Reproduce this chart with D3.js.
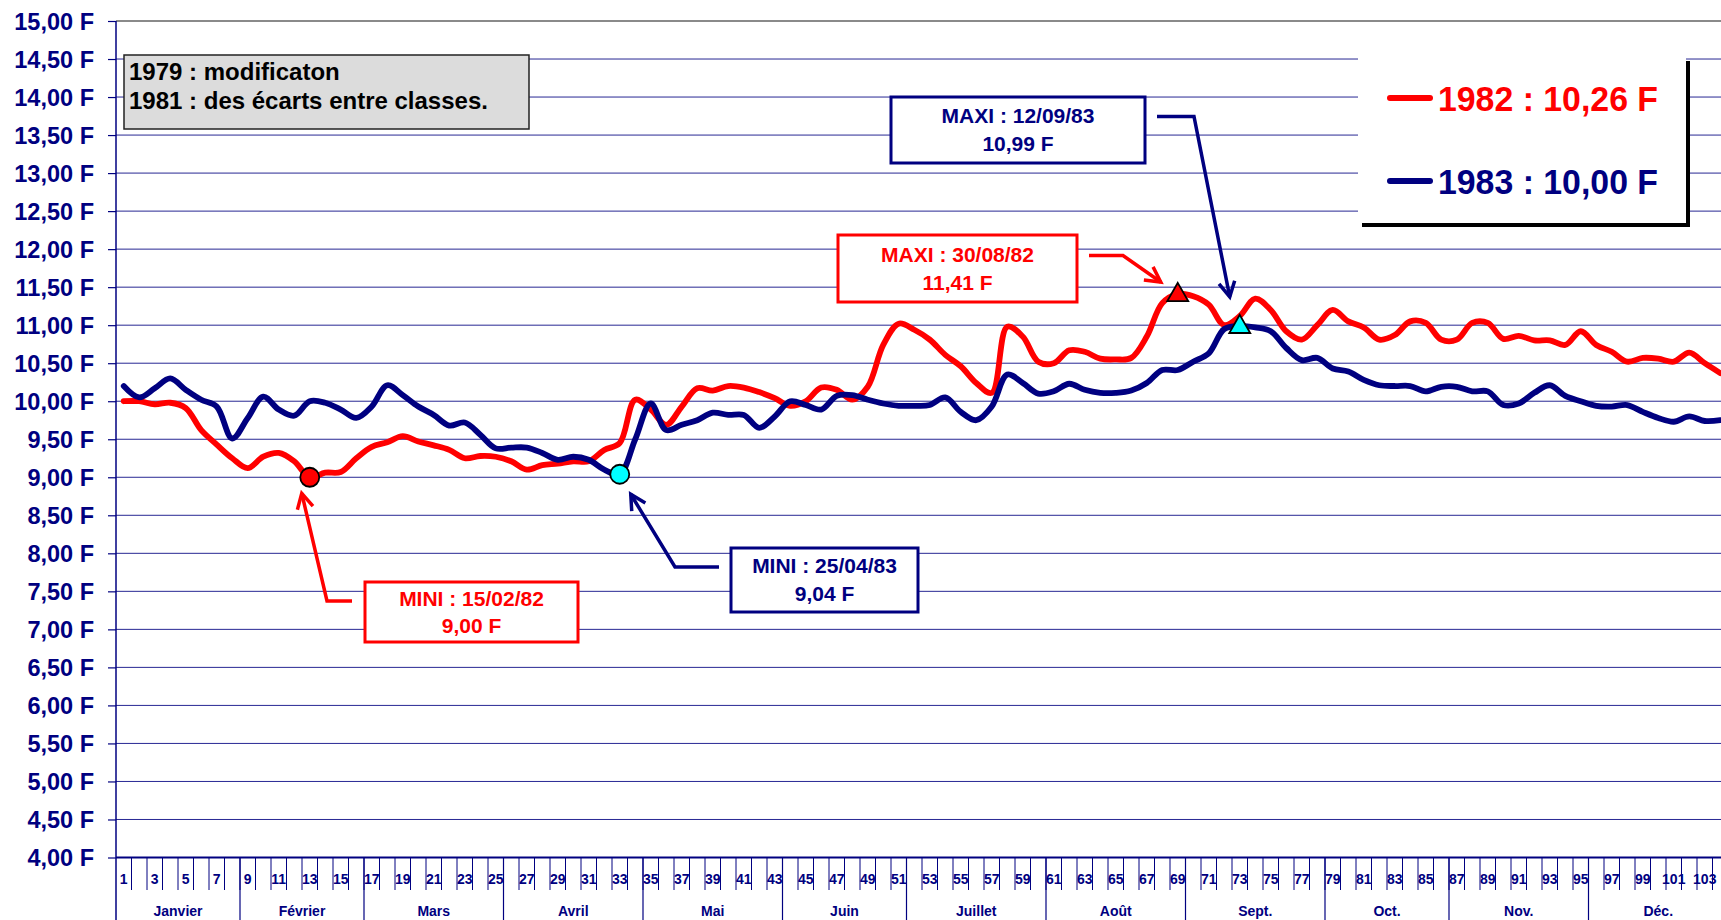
<!DOCTYPE html>
<html><head><meta charset="utf-8">
<script src="https://cdn.jsdelivr.net/npm/d3@7"></script>
<style>
html,body{margin:0;padding:0;background:#fff;}
svg{display:block;}
text{font-family:"Liberation Sans",Arial,Helvetica,sans-serif;font-weight:bold;}
</style></head><body>
<svg id="chart" width="1721" height="920"></svg>
<script>
// ---------- DATA ----------
const weeks = d3.range(1, 105);
const monthNames = ["Janvier","Février","Mars","Avril","Mai","Juin","Juillet","Août","Sept.","Oct.","Nov.","Déc."];
const monthWeeks = [8, 8, 9, 9, 9, 8, 9, 9, 9, 8, 9, 9];
const yTickValues = [4,4.5,5,5.5,6,6.5,7,7.5,8,8.5,9,9.5,10,10.5,11,11.5,12,12.5,13,13.5,14,14.5,15];
const series1982 = [
 10.00,10.00,9.96,9.98,9.91,9.62,9.43,9.25,9.12,9.27,
 9.32,9.21,9.00,9.06,9.07,9.25,9.40,9.46,9.54,9.47,
 9.42,9.36,9.25,9.28,9.27,9.21,9.10,9.16,9.18,9.21,
 9.21,9.36,9.45,10.02,9.89,9.69,9.93,10.17,10.14,10.20,
 10.18,10.12,10.04,9.94,10.00,10.18,10.15,10.02,10.19,10.74,
 11.02,10.94,10.81,10.61,10.46,10.24,10.11,10.98,10.85,10.52,
 10.50,10.67,10.65,10.56,10.55,10.57,10.85,11.29,11.41,11.38,
 11.27,11.00,11.12,11.35,11.20,10.92,10.81,11.00,11.20,11.05,
 10.97,10.81,10.87,11.05,11.03,10.81,10.81,11.03,11.03,10.82,
 10.86,10.80,10.80,10.74,10.92,10.74,10.65,10.52,10.57,10.56,
 10.52,10.64,10.50,10.37];
const series1983 = [
 10.20,10.05,10.17,10.30,10.15,10.02,9.93,9.51,9.78,10.06,
 9.89,9.81,10.00,9.98,9.89,9.78,9.93,10.21,10.08,9.93,
 9.82,9.68,9.72,9.56,9.38,9.39,9.39,9.32,9.23,9.27,
 9.23,9.10,9.04,9.50,9.97,9.62,9.69,9.75,9.85,9.82,
 9.82,9.65,9.80,10.00,9.95,9.89,10.07,10.08,10.02,9.97,
 9.94,9.94,9.95,10.05,9.86,9.75,9.93,10.35,10.24,10.10,
 10.13,10.23,10.15,10.11,10.11,10.14,10.24,10.41,10.41,10.52,
 10.63,10.95,10.99,10.97,10.92,10.70,10.54,10.57,10.43,10.39,
 10.28,10.21,10.20,10.20,10.13,10.19,10.19,10.13,10.13,9.95,
 9.97,10.11,10.21,10.07,10.00,9.94,9.93,9.95,9.86,9.78,
 9.73,9.80,9.74,9.75];
const seriesNames = ["1982", "1983"];
const legendLabels = ["1982 : 10,26 F", "1983 : 10,00 F"];
const noteLines = ["1979 : modificaton", "1981 : des écarts entre classes."];
const extremeSeries = ["1982", "1983", "1982", "1983"];
const extremeWeeks = [13, 33, 69, 73];
const extremeTitles = ["MINI : 15/02/82", "MINI : 25/04/83", "MAXI : 30/08/82", "MAXI : 12/09/83"];
const extremeValues = ["9,00 F", "9,04 F", "11,41 F", "10,99 F"];

// ---------- SETUP ----------
const W = 1721, H = 920;
const NAVY = "#000080", RED = "#ff0000", CYAN = "#00ffff";
const colors = {"1982": RED, "1983": NAVY};
const dataBy = {"1982": series1982, "1983": series1983};
const svg = d3.select("#chart");
svg.append("rect").attr("width", W).attr("height", H).attr("fill", "#fff");

const x0 = 116, cell = 15.5;
const x = d3.scaleBand().domain(weeks).range([x0, x0 + weeks.length * cell]).padding(0);
const xc = w => x(w) + x.bandwidth() / 2;
const y = d3.scaleLinear().domain([4, 15]).range([857.5, 21]);
const fmt = v => d3.format(".2f")(v).replace(".", ",") + " F";

// gridlines
svg.append("g").selectAll("line")
  .data(yTickValues.filter(v => v > 4 && v < 15))
  .join("line")
  .attr("x1", x0).attr("x2", W)
  .attr("y1", d => y(d)).attr("y2", d => y(d))
  .attr("stroke", NAVY).attr("stroke-opacity", 0.85).attr("stroke-width", 1);
// top border
svg.append("line").attr("x1", x0).attr("x2", W).attr("y1", y(15)).attr("y2", y(15))
  .attr("stroke", "#8a8a8a").attr("stroke-width", 2);

// y axis
const yAxis = d3.axisLeft(y).tickValues(yTickValues).tickFormat(fmt).tickSize(8).tickPadding(14);
const gy = svg.append("g").attr("transform", `translate(${x0},0)`).call(yAxis);
gy.select(".domain").remove();
gy.selectAll(".tick line").attr("stroke", NAVY).attr("stroke-width", 1.2);
gy.selectAll(".tick text").attr("fill", NAVY).attr("font-size", 23.5)
  .attr("font-family", '"Liberation Sans",Arial,sans-serif').attr("font-weight", "bold").attr("dy", "0.36em");
svg.append("line").attr("x1", x0).attr("x2", x0).attr("y1", y(15)).attr("y2", H)
  .attr("stroke", NAVY).attr("stroke-width", 1.5);

// x axis (week labels)
const xAxis = d3.axisBottom(x).tickValues(weeks.filter(w => w % 2 === 1)).tickSize(0).tickPadding(17);
const gx = svg.append("g").attr("transform", `translate(0,${y(4)})`).call(xAxis);
gx.select(".domain").remove();
gx.selectAll(".tick text").attr("fill", NAVY).attr("font-size", 14)
  .attr("font-family", '"Liberation Sans",Arial,sans-serif').attr("font-weight", "bold");
svg.append("line").attr("x1", x0).attr("x2", W).attr("y1", y(4)).attr("y2", y(4))
  .attr("stroke", NAVY).attr("stroke-width", 2);
// week boundary ticks
svg.append("g").selectAll("line").data(weeks.slice(1)).join("line")
  .attr("x1", d => x(d)).attr("x2", d => x(d))
  .attr("y1", y(4)).attr("y2", 890)
  .attr("stroke", NAVY).attr("stroke-width", 1);
// months
let acc = 0;
const monthSpans = monthNames.map((m, i) => { const s = acc + 1; acc += monthWeeks[i]; return {name: m, start: s, end: acc}; });
svg.append("g").selectAll("line").data(monthSpans.slice(1)).join("line")
  .attr("x1", d => x(d.start)).attr("x2", d => x(d.start))
  .attr("y1", y(4)).attr("y2", H)
  .attr("stroke", NAVY).attr("stroke-width", 1.2);
svg.append("g").selectAll("text").data(monthSpans).join("text")
  .attr("x", d => (x(d.start) + x(d.end) + x.bandwidth()) / 2)
  .attr("y", 916).attr("text-anchor", "middle")
  .attr("fill", NAVY).attr("font-size", 14).text(d => d.name);

// series lines
const line = d3.line().x((d, i) => xc(weeks[i])).y(d => y(d)).curve(d3.curveCatmullRom.alpha(0.5));
seriesNames.forEach(s => {
  svg.append("path").datum(dataBy[s]).attr("d", line)
    .attr("fill", "none").attr("stroke", colors[s]).attr("stroke-width", 5.8)
    .attr("stroke-linejoin", "round").attr("stroke-linecap", "round");
});

// note box
svg.append("rect").attr("x", 124).attr("y", 55).attr("width", 405).attr("height", 74)
  .attr("fill", "#dcdcdc").attr("stroke", "#222").attr("stroke-width", 1.5);
svg.append("g").selectAll("text").data(noteLines).join("text")
  .attr("x", 129).attr("y", (d, i) => 80 + i * 29)
  .attr("fill", "#000").attr("font-size", 24).text(d => d);

// legend
svg.append("rect").attr("x", 1362).attr("y", 61).attr("width", 328).attr("height", 166).attr("fill", "#000");
svg.append("rect").attr("x", 1358).attr("y", 57).attr("width", 328).attr("height", 166).attr("fill", "#fff");
const legRows = [98, 181];
seriesNames.forEach((s, i) => {
  svg.append("line").attr("x1", 1390).attr("x2", 1430).attr("y1", legRows[i]).attr("y2", legRows[i])
    .attr("stroke", colors[s]).attr("stroke-width", 6).attr("stroke-linecap", "round");
  svg.append("text").attr("x", 1438).attr("y", legRows[i] + 13)
    .attr("font-size", 35).attr("fill", colors[s])
    .attr("textLength", 220).attr("lengthAdjust", "spacingAndGlyphs")
    .text(legendLabels[i]);
});

// annotation boxes + arrows
const boxes = [
  {x: 365, y: 582, w: 213, h: 60, cx: 471.5, b1: 606, b2: 633, path: [[352, 601], [327, 601]], tipOff: [-8, 16]},
  {x: 731, y: 548, w: 187, h: 64, cx: 824.5, b1: 573, b2: 601, path: [[719, 567], [675, 567]], tipOff: [11, 20]},
  {x: 838, y: 235, w: 239, h: 67, cx: 957.5, b1: 262, b2: 290, path: [[1089, 255.5], [1123, 255.5]], tipOff: [-17, -12]},
  {x: 891, y: 97, w: 254, h: 66, cx: 1018, b1: 123, b2: 151, path: [[1157, 116.5], [1194, 116.5]], tipOff: [-10, -29]}
];
boxes.forEach((b, i) => {
  const col = colors[extremeSeries[i]];
  svg.append("rect").attr("x", b.x).attr("y", b.y).attr("width", b.w).attr("height", b.h)
    .attr("fill", "#fff").attr("stroke", col).attr("stroke-width", 3);
  svg.append("text").attr("x", b.cx).attr("y", b.b1).attr("text-anchor", "middle")
    .attr("font-size", 21).attr("fill", col).text(extremeTitles[i]);
  svg.append("text").attr("x", b.cx).attr("y", b.b2).attr("text-anchor", "middle")
    .attr("font-size", 21).attr("fill", col).text(extremeValues[i]);
  const w = extremeWeeks[i], v = dataBy[extremeSeries[i]][w - 1];
  const tip = [xc(w) + b.tipOff[0], y(v) + b.tipOff[1]];
  const pts = b.path.concat([tip]);
  svg.append("path").attr("d", d3.line()(pts)).attr("fill", "none")
    .attr("stroke", col).attr("stroke-width", 3.5).attr("stroke-linejoin", "miter");
  const prev = pts[pts.length - 2];
  const ang = Math.atan2(prev[1] - tip[1], prev[0] - tip[0]);
  const L = 17, a = 28 * Math.PI / 180;
  const arms = [[tip[0] + L * Math.cos(ang + a), tip[1] + L * Math.sin(ang + a)], tip,
                [tip[0] + L * Math.cos(ang - a), tip[1] + L * Math.sin(ang - a)]];
  svg.append("path").attr("d", d3.line()(arms)).attr("fill", "none")
    .attr("stroke", col).attr("stroke-width", 3.5).attr("stroke-linejoin", "miter");
});

// markers
[0, 1].forEach(i => {
  const w = extremeWeeks[i], v = dataBy[extremeSeries[i]][w - 1];
  svg.append("circle").attr("cx", xc(w)).attr("cy", y(v)).attr("r", 9.5)
    .attr("fill", i === 0 ? RED : CYAN).attr("stroke", "#000").attr("stroke-width", 1.8);
});
[2, 3].forEach(i => {
  const w = extremeWeeks[i], v = dataBy[extremeSeries[i]][w - 1];
  const sym = d3.symbol().type(d3.symbolTriangle).size(190);
  svg.append("path").attr("d", sym()).attr("transform", `translate(${xc(w)},${y(v) + 1})`)
    .attr("fill", i === 2 ? RED : CYAN).attr("stroke", "#000").attr("stroke-width", 1.8);
});
</script>
</body></html>
